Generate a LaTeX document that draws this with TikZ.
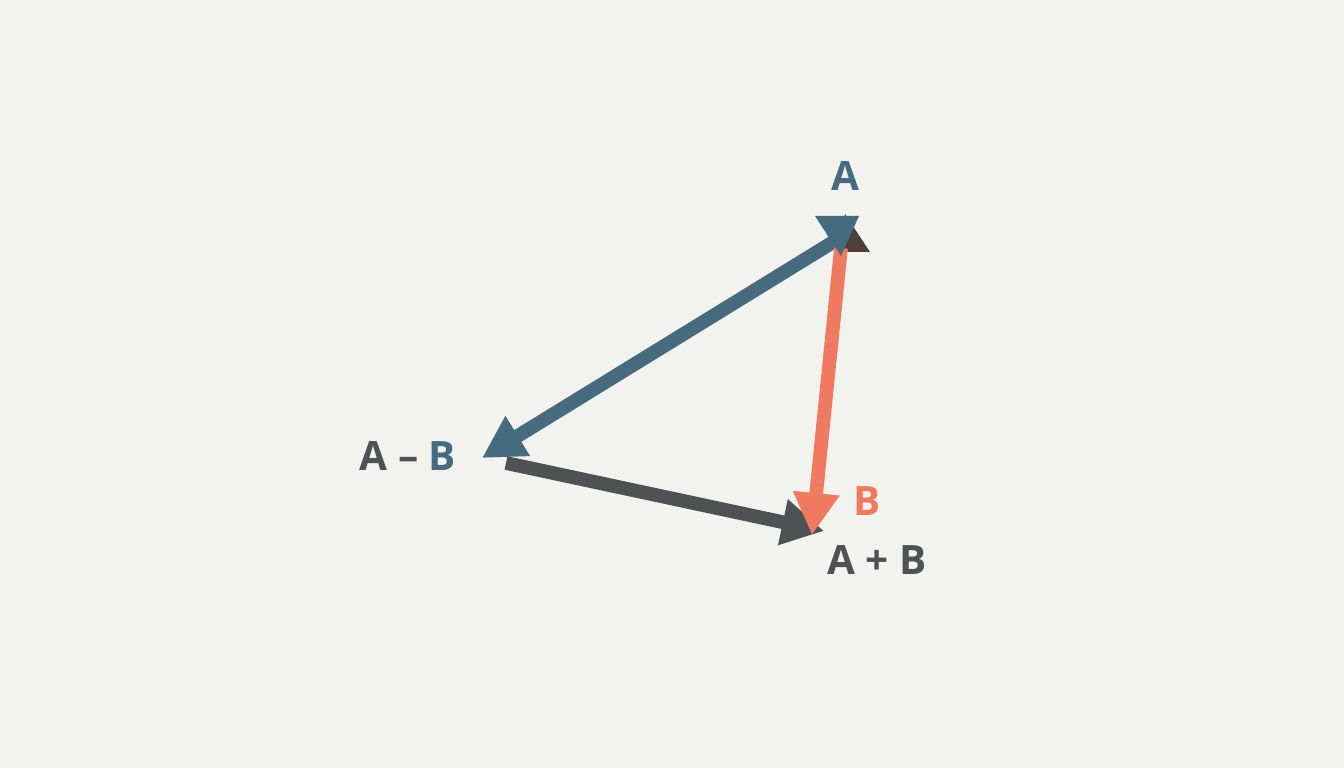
\documentclass[tikz,border=0pt]{standalone}
\usepackage{fontspec}
\setmainfont{Open Sans}
\usepackage{tikz}
\usetikzlibrary{arrows.meta}
\definecolor{vecblue}{HTML}{466A7E}
\definecolor{vecred}{HTML}{F07A5F}
\definecolor{vecdark}{HTML}{4F5254}
\definecolor{vecbrown}{HTML}{4E3F3C}
\definecolor{paper}{HTML}{F2F2EE}

\begin{document}
\begin{tikzpicture}[x=0.01cm,y=-0.01cm,
		vec/.style={line width=3.9pt, -{Triangle[length=0.42cm,width=0.44cm]}},
		lab/.style={font=\fontsize{11.5}{13}\selectfont\bfseries, inner sep=0pt}]

	\fill [paper] (0,0) rectangle (1344,768);

	% corners of the triangle
	\coordinate (top) at (843,236);
	\coordinate (left) at (482,458);
	\coordinate (bottom) at (812,535);
	\coordinate (sum) at (824,531);

	% marks at the top corner
	\fill [vecbrown] (845,214) -- (870,252) -- (838,252) -- cycle;

	\draw [vec, vecdark] (506,463) -- (sum);
	\draw [vec, vecblue] (top) -- (left);
	\draw [vec, vecred] (841,248) -- (bottom);

	\fill [vecblue] (815,216) -- (859,216) -- (841,256) -- cycle;

	\node [lab, text=vecblue] (labA) at (845,176) {A};
	\node [lab] (labAmB) at (408,456) {\textcolor{vecdark}{A -- }\textcolor{vecblue}{B}};
	\node [lab, text=vecred] (labB) at (867,501) {B};
	\node [lab, text=vecdark] (labApB) at (877,560) {A + B};

\end{tikzpicture}
\end{document}
